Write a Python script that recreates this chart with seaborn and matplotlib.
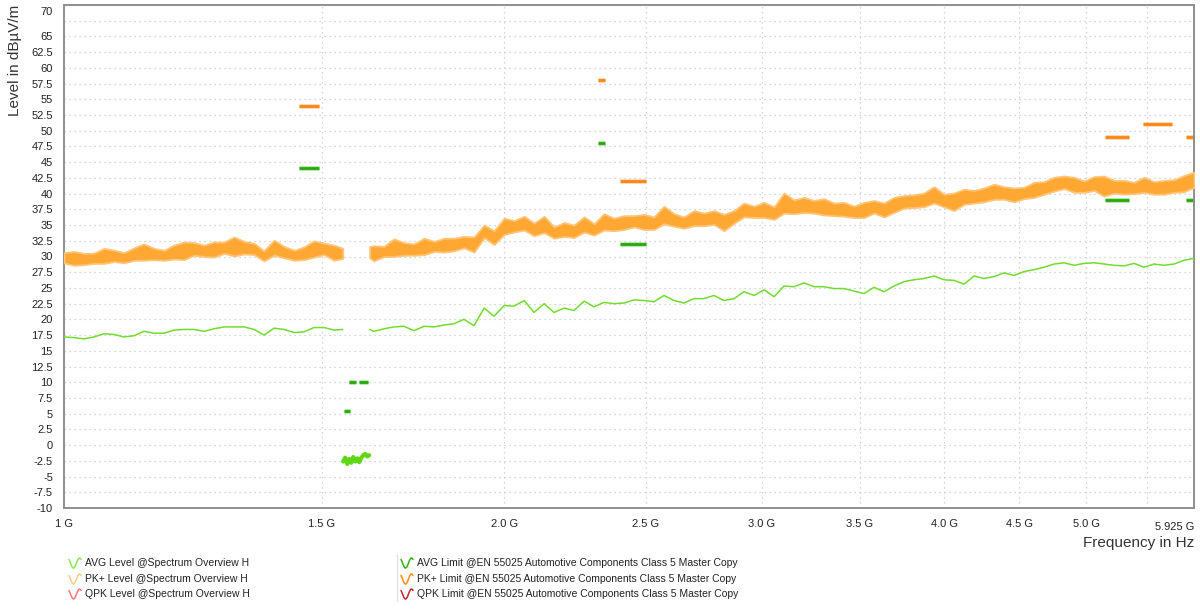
import numpy as np
import pandas as pd
import matplotlib
matplotlib.use("Agg")
import matplotlib.pyplot as plt
import matplotlib.patheffects as pe
import matplotlib.transforms as mtransforms
import seaborn as sns

# ---------- data (frequency in MHz, level in dBuV/m)
# sweep below the GNSS window
freqA = [1000, 1016, 1032, 1048, 1065, 1082, 1099, 1117, 1134, 1152,
         1171, 1189, 1208, 1227, 1247, 1266, 1287, 1307, 1328, 1349,
         1370, 1392, 1414, 1437, 1459, 1482, 1506, 1530, 1551]
pkA_top = [30.6, 30.8, 30.5, 30.5, 31.3, 31.0, 30.6, 31.4, 32.0, 31.3,
           31.0, 31.8, 32.3, 32.2, 31.8, 32.3, 32.3, 33.1, 32.4, 32.1,
           30.9, 32.6, 31.6, 31.0, 31.5, 32.5, 32.1, 31.8, 31.3]
pkA_bot = [29.0, 28.6, 28.7, 28.9, 28.9, 29.2, 29.0, 29.4, 29.4, 29.5,
           29.4, 29.6, 29.5, 30.2, 30.0, 29.9, 30.5, 30.1, 30.4, 30.3,
           29.3, 30.2, 29.8, 29.4, 29.5, 29.9, 30.3, 29.4, 29.7]
avgA = [17.2, 17.1, 16.9, 17.2, 17.7, 17.6, 17.2, 17.4, 18.1, 17.8,
        17.8, 18.3, 18.4, 18.4, 18.1, 18.5, 18.8, 18.8, 18.8, 18.4,
        17.5, 18.6, 18.4, 17.9, 18.0, 18.7, 18.7, 18.3, 18.4]

# sweep above the GNSS window
freqB = [1618, 1629, 1655, 1681, 1708, 1735, 1763, 1791, 1819, 1848,
         1877, 1907, 1938, 1968, 2000, 2031, 2064, 2096, 2130, 2163,
         2198, 2232, 2268, 2304, 2340, 2377, 2415, 2454, 2492, 2532,
         2572, 2613, 2654, 2697, 2739, 2783, 2827, 2872, 2917, 2964,
         3011, 3059, 3107, 3156, 3206, 3257, 3309, 3361, 3415, 3469,
         3524, 3580, 3637, 3694, 3753, 3813, 3873, 3935, 3997, 4061,
         4125, 4191, 4257, 4325, 4393, 4463, 4534, 4606, 4679, 4753,
         4829, 4906, 4983, 5063, 5143, 5225, 5307, 5392, 5477, 5564,
         5653, 5742, 5833, 5925]
pkB_top = [31.6, 31.7, 31.6, 32.8, 32.2, 32.0, 32.9, 32.4, 32.9, 32.9,
           33.2, 33.1, 35.0, 34.1, 36.1, 35.7, 36.4, 35.3, 36.4, 34.7,
           35.4, 35.0, 36.3, 35.2, 36.8, 36.1, 36.5, 36.5, 36.7, 36.3,
           38.0, 36.8, 36.3, 37.3, 36.9, 37.3, 36.7, 37.3, 38.5, 38.0,
           38.6, 37.9, 40.1, 39.0, 39.4, 38.9, 39.2, 38.5, 38.6, 38.0,
           38.6, 38.9, 38.5, 39.4, 39.7, 39.8, 40.1, 41.1, 39.9, 40.1,
           40.7, 40.5, 40.9, 41.5, 41.1, 40.9, 41.0, 41.8, 41.9, 42.6,
           42.8, 42.6, 42.0, 42.7, 42.8, 42.1, 42.1, 41.8, 42.6, 41.9,
           42.1, 42.2, 42.9, 43.4]
pkB_bot = [29.8, 29.3, 30.0, 30.0, 30.2, 30.2, 30.3, 30.8, 30.7, 30.9,
           31.4, 30.7, 33.0, 31.9, 33.5, 33.9, 34.2, 33.3, 33.8, 32.9,
           33.2, 33.0, 33.9, 33.4, 34.2, 34.1, 34.3, 34.7, 34.3, 34.3,
           35.2, 34.8, 34.5, 34.9, 34.9, 35.1, 34.1, 35.3, 36.3, 36.2,
           36.2, 35.9, 36.9, 36.8, 37.0, 36.9, 36.6, 36.5, 36.4, 36.2,
           36.2, 36.9, 36.3, 37.0, 37.7, 37.8, 37.9, 38.5, 37.9, 37.3,
           38.3, 38.5, 38.7, 39.1, 39.1, 38.7, 39.2, 39.4, 39.9, 40.4,
           40.8, 40.2, 40.2, 40.5, 39.6, 40.1, 39.9, 40.0, 40.2, 39.9,
           39.9, 40.2, 40.3, 41.0]
avgB = [18.4, 18.1, 18.5, 18.8, 18.9, 18.2, 18.9, 18.8, 19.1, 19.3,
        20.0, 19.0, 21.8, 20.5, 22.2, 22.1, 23.0, 21.1, 22.5, 21.1,
        21.8, 21.4, 22.9, 22.0, 22.7, 22.5, 22.6, 23.1, 23.0, 22.8,
        23.8, 23.0, 22.6, 23.3, 23.3, 23.8, 23.0, 23.3, 24.4, 23.8,
        24.7, 23.6, 25.3, 25.2, 25.8, 25.2, 25.2, 24.9, 24.9, 24.5,
        24.1, 25.1, 24.4, 25.3, 26.0, 26.3, 26.5, 26.9, 26.3, 26.2,
        25.6, 26.9, 26.5, 26.8, 27.4, 27.0, 27.6, 27.9, 28.3, 28.8,
        29.0, 28.6, 28.9, 29.0, 28.8, 28.6, 28.5, 28.9, 28.3, 28.8,
        28.6, 28.8, 29.4, 29.7]

# GNSS window measured separately (AVG only)
gnss_freq = [1552, 1557, 1562, 1567, 1572, 1577, 1582, 1587, 1592, 1597,
             1602, 1607, 1612, 1617]
gnss_avg = [-2.6, -2.0, -3.0, -2.2, -2.8, -1.9, -2.6, -2.1, -2.7, -2.0,
            -1.6, -1.4, -1.8, -1.6]

# limit lines
pk_lim_start = [1447, 2320, 2400, 5150, 5470, 5850]
pk_lim_stop = [1494, 2345, 2500, 5350, 5725, 5925]
pk_lim_level = [54, 58, 42, 49, 51, 49]
avg_lim_start = [1447, 1553, 1567, 1591, 2320, 2400, 5150, 5470, 5850]
avg_lim_stop = [1494, 1569, 1583, 1614, 2345, 2500, 5350, 5725, 5925]
avg_lim_level = [44, 5.5, 10, 10, 48, 32, 39, 41, 39]

x_ticks = [1000, 1500, 2000, 2500, 3000, 3500, 4000, 4500, 5000, 5500]
x_labels = ['1 G', '1.5 G', '2.0 G', '2.5 G', '3.0 G', '3.5 G', '4.0 G',
            '4.5 G', '5.0 G', '']

legend_left = ['AVG Level @Spectrum Overview H',
               'PK+ Level @Spectrum Overview H',
               'QPK Level @Spectrum Overview H']
legend_right = ['AVG Limit @EN 55025 Automotive Components Class 5 Master Copy',
                'PK+ Limit @EN 55025 Automotive Components Class 5 Master Copy',
                'QPK Limit @EN 55025 Automotive Components Class 5 Master Copy']
colors_left = ['#8ee65a', '#ffc98a', '#f47a7a']
colors_right = ['#2fb010', '#ff8a10', '#c0282a']

# ---------- style
sns.set_theme(style='white')
plt.rcParams['font.family'] = ['Liberation Sans', 'DejaVu Sans']

c_pk = '#ffa733'
c_avg = '#72dc2e'
c_pklim = '#ff8410'
c_avglim = '#26a80a'

fig = plt.figure(figsize=(12, 6.11), dpi=100)
ax = fig.add_axes([64 / 1200, 103 / 611, 1130 / 1200, 503 / 611])

# limits first so the traces sit on top
halo = [pe.Stroke(linewidth=3.4, alpha=0.35), pe.Normal()]
l1 = ax.hlines(pk_lim_level, pk_lim_start, pk_lim_stop, color=c_pklim, lw=2, zorder=2)
l2 = ax.hlines(avg_lim_level, avg_lim_start, avg_lim_stop, color=c_avglim, lw=2, zorder=2)
l1.set_path_effects(halo)
l2.set_path_effects(halo)

# PK+ trace as its envelope band
for fq, lo, hi in [(freqA, pkA_bot, pkA_top), (freqB, pkB_bot, pkB_top)]:
    ax.fill_between(fq, lo, hi, facecolor=c_pk, edgecolor='#ffc476', lw=1.3, zorder=3)

# AVG trace
avg_df = pd.concat([pd.DataFrame({'f': freqA, 'v': avgA, 'seg': 'a'}),
                    pd.DataFrame({'f': freqB, 'v': avgB, 'seg': 'b'})])
sns.lineplot(data=avg_df, x='f', y='v', units='seg', estimator=None, sort=False,
             color=c_avg, lw=1.1, ax=ax, legend=False, zorder=4)
sns.lineplot(x=gnss_freq, y=gnss_avg, color='#5fd812', lw=3, sort=False,
             estimator=None, ax=ax, legend=False, zorder=4)

# ---------- axes
ax.set_xscale('log')
ax.set_xlim(1000, 5925)
ax.set_ylim(-10, 70)
ax.set_xticks(x_ticks)
ax.set_xticklabels(x_labels)
ax.xaxis.set_minor_locator(matplotlib.ticker.NullLocator())
yt = np.arange(-10, 70.1, 2.5)
ax.set_yticks(yt)
ax.set_yticklabels(['' if v == 67.5 else f'{v:g}' for v in yt])
ax.tick_params(axis='both', labelsize=8, colors='#222222', length=5,
               width=0.8, pad=3)
ax.tick_params(axis='x', pad=4, length=4)
for t in ax.get_xticklines() + ax.get_yticklines():
    t.set_color('#999999')
ax.set_xlabel('')
ax.set_ylabel('')
ax.grid(True, color='#c9c9c9', ls=(0, (1, 3)), lw=0.9)
for s in ax.spines.values():
    s.set_color('#8f8f8f')
    s.set_linewidth(1.4)

# top label "70" sits a little below the frame edge
top_lab = ax.get_yticklabels()[-1]
top_lab.set_transform(top_lab.get_transform() +
                      mtransforms.ScaledTranslation(0, -6 / 100, fig.dpi_scale_trans))

ax.annotate('5.925 G', xy=(5925, 0), xycoords=('data', 'axes fraction'),
            xytext=(0, -13.5), textcoords='offset points', ha='right', va='center',
            fontsize=8, color='#222222')

fig.text(15 / 1200, 1 - 5 / 611, 'Level in dBµV/m', rotation=90, ha='center',
         va='top', fontsize=11, color='#333333')
fig.text(1194 / 1200, 1 - 543 / 611, 'Frequency in Hz', ha='right', va='center',
         fontsize=11, color='#333333')

# ---------- legend strip
lg = fig.add_axes([0, 0, 1, 61 / 611])
lg.set_xlim(0, 1200)
lg.set_ylim(611, 550)
lg.axis('off')
tt = np.linspace(0.25 * np.pi, 2.25 * np.pi, 30)
rows = [563, 579, 594]
for i in range(3):
    lg.plot(69 + 12 * (tt - tt[0]) / (2 * np.pi), rows[i] - 5 * np.cos(tt),
            color=colors_left[i], lw=1.1)
    lg.text(85, rows[i], legend_left[i], fontsize=7.5, va='center', color='#222222')
    lg.plot(401 + 12 * (tt - tt[0]) / (2 * np.pi), rows[i] - 5 * np.cos(tt),
            color=colors_right[i], lw=1.1)
    lg.text(417, rows[i], legend_right[i], fontsize=7.5, va='center', color='#222222')
lg.plot([397, 397], [555, 601], color='#e2e2e2', lw=1)

fig.savefig('out.png', dpi=100)
